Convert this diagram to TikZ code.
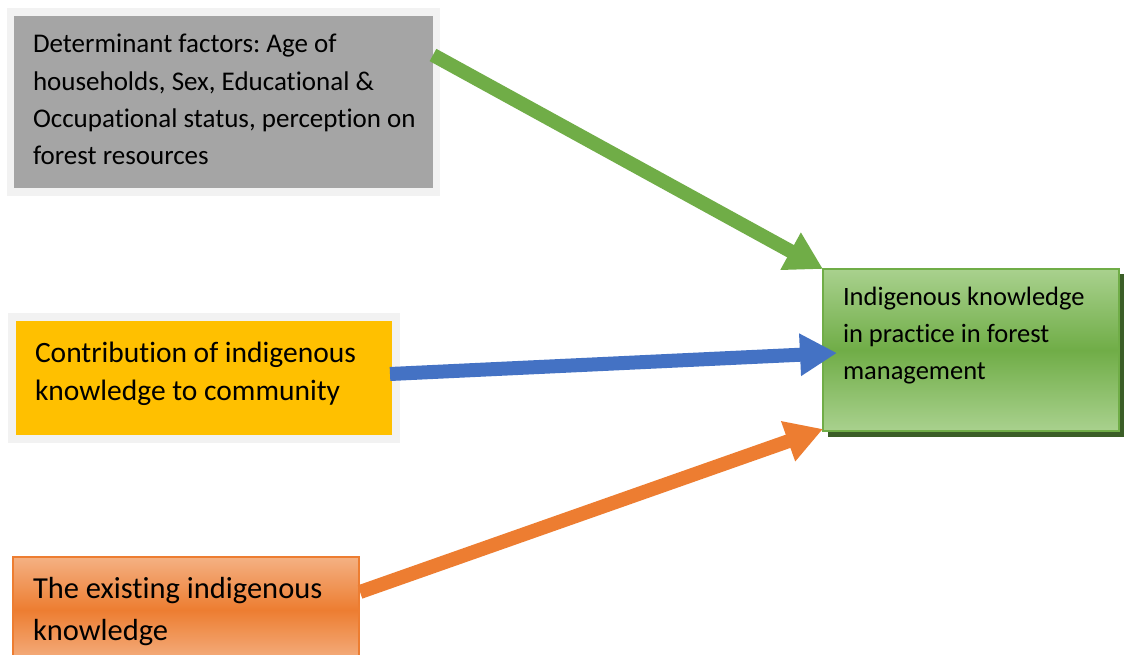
\documentclass[tikz,border=0pt]{standalone}
\usepackage{fontspec}
\setmainfont{Carlito}[Ligatures=NoCommon]
\frenchspacing
\usetikzlibrary{arrows.meta,calc}

\definecolor{boxgray}{HTML}{A5A5A5}
\definecolor{rimgray}{HTML}{F2F2F2}
\definecolor{gold}{HTML}{FFC000}
\definecolor{orangemid}{HTML}{ED7D31}
\definecolor{orangelight}{HTML}{F4B183}
\definecolor{greenmid}{HTML}{70AD47}
\definecolor{greenlight}{HTML}{A9D18E}
\definecolor{greendark}{HTML}{3B5E27}
\definecolor{arrowblue}{HTML}{4472C4}

\tikzset{
  panel/.style={rectangle, inner sep=0pt, outer sep=0pt, anchor=north west},
  rimpanel/.style={panel, draw=rimgray, line width=7.5pt},
  label/.style={anchor=base west, inner sep=0pt, outer sep=0pt},
  conn/.style={line width=14pt, -{Triangle[length=37pt,width=40pt]}},
}

\begin{document}
\begin{tikzpicture}[x=1pt,y=-1pt]
  \clip (0,0) rectangle (1124,655);
  \fill[white] (0,0) rectangle (1124,655);

  % left-hand input boxes
  \node[rimpanel, fill=boxgray, minimum width=426, minimum height=180] (factors) at (10.5,12) {};
  \node[rimpanel, fill=gold, minimum width=384, minimum height=122] (contrib) at (12,317) {};
  \node[panel, draw=orangemid, line width=2pt, top color=orangelight, bottom color=orangelight,
        middle color=orangemid, minimum width=346, minimum height=106] (existing) at (13,557) {};

  % outcome box with its drop shadow
  \fill[greendark] (828,274) rectangle (1124,436.5);
  \node[panel, draw=greenmid, line width=2pt, top color=greenlight, bottom color=greenlight,
        middle color=greenmid, minimum width=296, minimum height=162] (result) at (823,269) {};

  % box texts
  \node[label] (factors-text) at (33,53) {\parbox[t]{400pt}{\raggedright\fontsize{27}{37.3}\selectfont
    Determinant factors: Age of\\ households, Sex, Educational \&\\ Occupational status, perception on\\ forest resources}};
  \node[label] (contrib-text) at (35,362) {\parbox[t]{360pt}{\raggedright\fontsize{29.5}{38}\selectfont
    Contribution of indigenous\\ knowledge to community}};
  \node[label] (existing-text) at (33,598) {\parbox[t]{330pt}{\raggedright\fontsize{30.5}{42}\selectfont
    The existing indigenous\\ knowledge}};
  \node[label] (result-text) at (843,305) {\parbox[t]{270pt}{\raggedright\fontsize{26.5}{37}\selectfont
    Indigenous knowledge\\ in practice in forest\\ management}};

  % connector start points on the input boxes
  \coordinate (factors-out) at (433,55);
  \coordinate (contrib-out) at (390,374);
  \coordinate (existing-out) at (360,592);

  % connectors
  \draw[conn, draw=greenmid, fill=greenmid] (factors-out) -- (result.north west);
  \draw[conn, draw=arrowblue, fill=arrowblue] (contrib-out) -- ($(result.west)+(14,3)$);
  \draw[conn, draw=orangemid, fill=orangemid] (existing-out) -- ($(result.south west)+(0,-2)$);
\end{tikzpicture}
\end{document}
